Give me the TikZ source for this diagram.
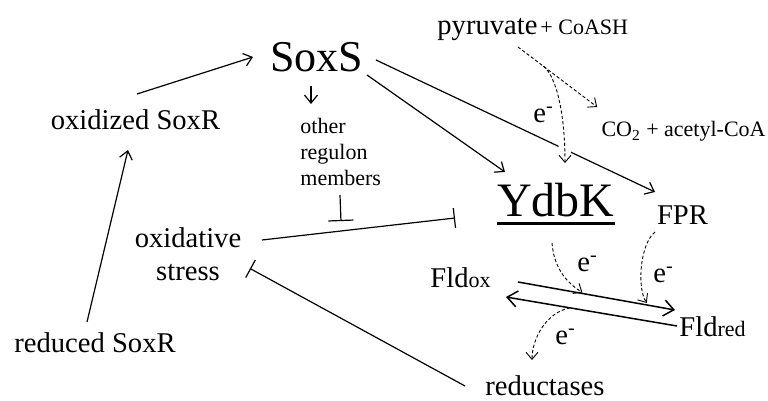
\documentclass[tikz,border=0pt]{standalone}
\usepackage{fontspec}
\setmainfont{Liberation Serif}
\usetikzlibrary{arrows.meta,calc}
\tikzset{>={Straight Barb[length=4pt,width=6.5pt]}}
\newcommand{\lowtxt}[1]{{\fontsize{11}{13}\selectfont #1}}

\begin{document}
\begin{tikzpicture}[x=0.5pt, y=-0.5pt,
                    txt/.style={inner sep=0pt, font=\fontsize{14.3}{16.5}\selectfont},
                    bigtxt/.style={inner sep=0pt, font=\fontsize{22}{26}\selectfont},
                    hugetxt/.style={inner sep=0pt, font=\fontsize{24}{28}\selectfont},
                    smalltxt/.style={inner sep=0pt, font=\fontsize{11}{13}\selectfont},
                    act/.style={line width=0.6pt, ->},
                    inhib/.style={line width=0.6pt, -{Bar[width=10pt]}},
                    etrans/.style={line width=0.45pt, dash pattern=on 1.6pt off 1.1pt,
                                   -{Straight Barb[length=3.5pt,width=6pt,line width=0.45pt]}},
                    fldarr/.style={line width=0.75pt, -{Straight Barb[length=5pt,width=8pt]}},
                   ]

\useasboundingbox (0,0) rectangle (768,401);

% regulators
\node[bigtxt, anchor=base] (soxs) at (317,72) {SoxS};
\node[txt, anchor=base] (oxsoxr) at (135.5,130) {oxidized SoxR};
\node[txt, anchor=base] (redsoxr) at (95,353) {reduced SoxR};
\node[smalltxt, anchor=north west, align=left] (regulon) at (300,118) {other\\regulon\\members};
\node[txt, anchor=north, align=center] (stress) at (188,227.5) {oxidative\\stress};

% enzyme and partners
\node[hugetxt, anchor=base] (ydbk) at (556,217) {YdbK};
\draw[line width=1.6pt] ($(ydbk.base west)+(0,6.5)$) -- ($(ydbk.base east)+(0,6.5)$);
\node[txt, anchor=base] (fpr) at (682.5,225) {FPR};
\node[txt, anchor=base west] (pyr) at (437,35) {pyruvate\hspace{1.5pt}\lowtxt{+ CoASH}};
\node[smalltxt, anchor=base east] (co2) at (766,137) {CO\textsubscript{2} + acetyl-CoA};
\node[txt, anchor=base west] (fldox) at (430,288) {Fld\lowtxt{ox}};
\node[txt, anchor=base west] (fldred) at (679,337) {Fld\lowtxt{red}};
\node[txt, anchor=base] (reduct) at (545,396) {reductases};

% electrons
\node[txt, anchor=base west] (e1) at (533,123) {e\textsuperscript{-}};
\node[txt, anchor=base west] (e2) at (577,272) {e\textsuperscript{-}};
\node[txt, anchor=base west] (e3) at (653,283) {e\textsuperscript{-}};
\node[txt, anchor=base west] (e4) at (555,345) {e\textsuperscript{-}};

% activation
\draw[act] ($(oxsoxr.base)+(1.5,-36)$) -- ($(soxs.base)+(-64,-15)$);
\draw[act] ($(redsoxr.base)+(-8,-31)$) -- ($(oxsoxr.base)+(-7.5,20)$);
\draw[act] ($(soxs.base)+(-6,14)$) -- ($(regulon.north west)+(11,-14)$);
\draw[act] ($(soxs.base)+(50,3)$) -- ($(ydbk.base)+(-51,-45)$);
\draw[act] ($(soxs.base)+(59,-12)$) -- ($(fpr.base)+(-27.5,-33)$);

% inhibition
\draw[inhib] ($(stress.north)+(74,12.5)$) -- coordinate[pos=0.404] (hit) ($(ydbk.base)+(-101,1)$);
\draw[inhib, -{Bar[width=12.5pt]}] ($(regulon.north west)+(40,77)$) -- ($(hit)+(1,-10)$);
\draw[inhib] ($(reduct.base)+(-80,-10)$) -- ($(stress.north)+(62,41)$);

% flavodoxin cycle
\draw[fldarr] ($(fldox.base west)+(88,-6)$) -- coordinate[pos=0.41] (fwd1) coordinate[pos=0.82] (fwd2) ($(fldred.base west)+(-4,-27)$);
\draw[fldarr] ($(fldred.base west)+(-2,-11)$) -- coordinate[pos=0.626] (back) ($(fldox.base west)+(76,9)$);

\draw[etrans] ($(ydbk.base)+(-4,26)$) .. controls +(2,25) and +(-16,-10) .. ($(fwd1)+(0,-1)$);
\draw[etrans] ($(fpr.base)+(-27.5,7)$) .. controls +(-15,12) and +(-10,-15) .. ($(fwd2)+(0,-2)$);
\draw[etrans] (back) .. controls +(-25,5) and +(0,-20) .. ($(reduct.base)+(-13,-36)$);

% pyruvate oxidation
\coordinate (pyrout) at ($(pyr.base west)+(81,12)$);
\coordinate (co2in) at ($(co2.base west)+(-4,-30)$);
\coordinate (split) at ($(pyrout)!0.32!(co2in)$);
\draw[etrans, preaction={draw=white, line width=6pt, solid, -}] (split) .. controls +(13,10) and +(0,-50) .. ($(ydbk.base)+(9,-54)$);
\draw[etrans] (pyrout) -- (co2in);

\end{tikzpicture}
\end{document}
